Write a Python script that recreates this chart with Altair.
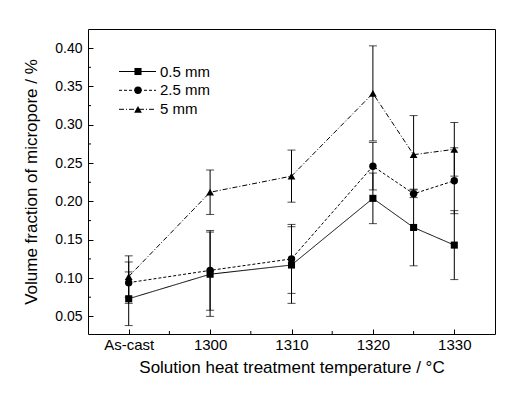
import altair as alt
import pandas as pd

# ---- data ----
categories = ["As-cast", "1300", "1310", "1320", "1325", "1330"]
positions = [1290, 1300, 1310, 1320, 1325, 1330]  # As-cast drawn at the 1290 slot
series = ["0.5 mm", "2.5 mm", "5 mm"]
val_05 = [0.073, 0.105, 0.117, 0.204, 0.166, 0.143]
err_05 = [0.035, 0.055, 0.050, 0.033, 0.050, 0.045]
val_25 = [0.094, 0.110, 0.125, 0.246, 0.210, 0.227]
err_25 = [0.027, 0.052, 0.045, 0.031, 0.005, 0.043]
val_5 = [0.102, 0.212, 0.233, 0.341, 0.261, 0.268]
err_5 = [0.027, 0.029, 0.034, 0.062, 0.051, 0.035]
x_ticks = [1290, 1300, 1310, 1320, 1330]
x_minor = [1295, 1305, 1315, 1325]
y_ticks = [0.05, 0.10, 0.15, 0.20, 0.25, 0.30, 0.35, 0.40]
y_minor = [0.075, 0.125, 0.175, 0.225, 0.275, 0.325, 0.375]

rows = []
for s, vals, errs in zip(series, [val_05, val_25, val_5], [err_05, err_25, err_5]):
    for c, p, v, e in zip(categories, positions, vals, errs):
        rows.append({"series": s, "cat": c, "pos": p, "val": v, "lo": v - e, "hi": v + e})
df = pd.DataFrame(rows)

W, H = 407, 305
XDOM = [1285, 1335]
YDOM = [0.027, 0.425]
FONT = "Liberation Sans"

xscale = alt.Scale(domain=XDOM, nice=False, zero=False)
yscale = alt.Scale(domain=YDOM, nice=False, zero=False)
xaxis = alt.Axis(values=x_ticks, format="d",
                 labelExpr="datum.value == 1290 ? 'As-cast' : datum.label",
                 offset=-5, tickSize=5, domain=False, grid=False,
                 labelPadding=3, labelFontSize=15, labelFont=FONT, labelColor="black",
                 tickColor="black", titleFontSize=17, titleFont=FONT, titleFontWeight="normal",
                 titleColor="black", titlePadding=7)
yaxis = alt.Axis(values=y_ticks, format=".2f", offset=-5, tickSize=5, domain=False,
                 grid=False, labelPadding=6, labelFontSize=14, labelFont=FONT,
                 labelColor="black", tickColor="black", titleFontSize=17, titleFont=FONT,
                 titleFontWeight="normal", titleColor="black", titlePadding=14)
XT = "Solution heat treatment temperature / °C"
YT = "Volume fraction of micropore / %"


def X(field):
    return alt.X(field, type="quantitative", scale=xscale, axis=xaxis, title=XT)


def Y(field):
    return alt.Y(field, type="quantitative", scale=yscale, axis=yaxis, title=YT)


dash = alt.StrokeDash("series:N", scale=alt.Scale(domain=series, range=[[1, 0], [3, 2], [5, 2, 1, 2]]), legend=None)
shape = alt.Shape("series:N", scale=alt.Scale(domain=series, range=["square", "circle", "triangle-up"]), legend=None)
msize = alt.Size("series:N", scale=alt.Scale(domain=series, range=[50, 60, 90]), legend=None)

base = alt.Chart(df)
err_rule = base.mark_rule(color="black", strokeWidth=1).encode(x=X("pos"), y=Y("lo"), y2="hi")
cap_lo = base.mark_tick(color="black", orient="horizontal", size=8, thickness=1).encode(x=X("pos"), y=Y("lo"))
cap_hi = base.mark_tick(color="black", orient="horizontal", size=8, thickness=1).encode(x=X("pos"), y=Y("hi"))
lines = base.mark_line(color="black", strokeWidth=1).encode(x=X("pos"), y=Y("val"), strokeDash=dash, detail="series:N")
points = base.mark_point(filled=True, color="black", opacity=1).encode(
    x=X("pos"), y=Y("val"), shape=shape, size=msize)

# minor ticks (inside the frame)
xm = alt.Chart(pd.DataFrame({"t": x_minor})).mark_rule(color="black").encode(
    x=X("t"), y=alt.value(H), y2=alt.value(H - 3))
ym = alt.Chart(pd.DataFrame({"t": y_minor})).mark_rule(color="black").encode(
    y=Y("t"), x=alt.value(0), x2=alt.value(3))

# legend (top-left inside the plot)
leg_px = [42.5, 61.3, 80.3]
leg_y = [YDOM[1] - p / H * (YDOM[1] - YDOM[0]) for p in leg_px]
dleg = pd.DataFrame({"series": series, "ly": leg_y})
lb = alt.Chart(dleg)
leg_line = lb.mark_rule(color="black", strokeWidth=1).encode(
    x=alt.value(31), x2=alt.value(68), y=Y("ly"), strokeDash=dash)
leg_pt = lb.mark_point(filled=True, color="black", opacity=1).encode(
    x=alt.value(50), y=Y("ly"), shape=shape, size=msize)
leg_txt = lb.mark_text(align="left", baseline="middle", font=FONT, fontSize=15, color="black").encode(
    x=alt.value(72), y=Y("ly"), text="series:N")

chart = alt.layer(err_rule, cap_lo, cap_hi, lines, points, xm, ym, leg_line, leg_pt, leg_txt).properties(
    width=W, height=H,
    autosize=alt.AutoSizeParams(type="none"),
    padding={"left": 80, "top": 21, "right": 20, "bottom": 55},
    background="white",
).configure_view(stroke="black", strokeWidth=1)

chart.save("out.html", embed_options={"renderer": "svg", "actions": False})
